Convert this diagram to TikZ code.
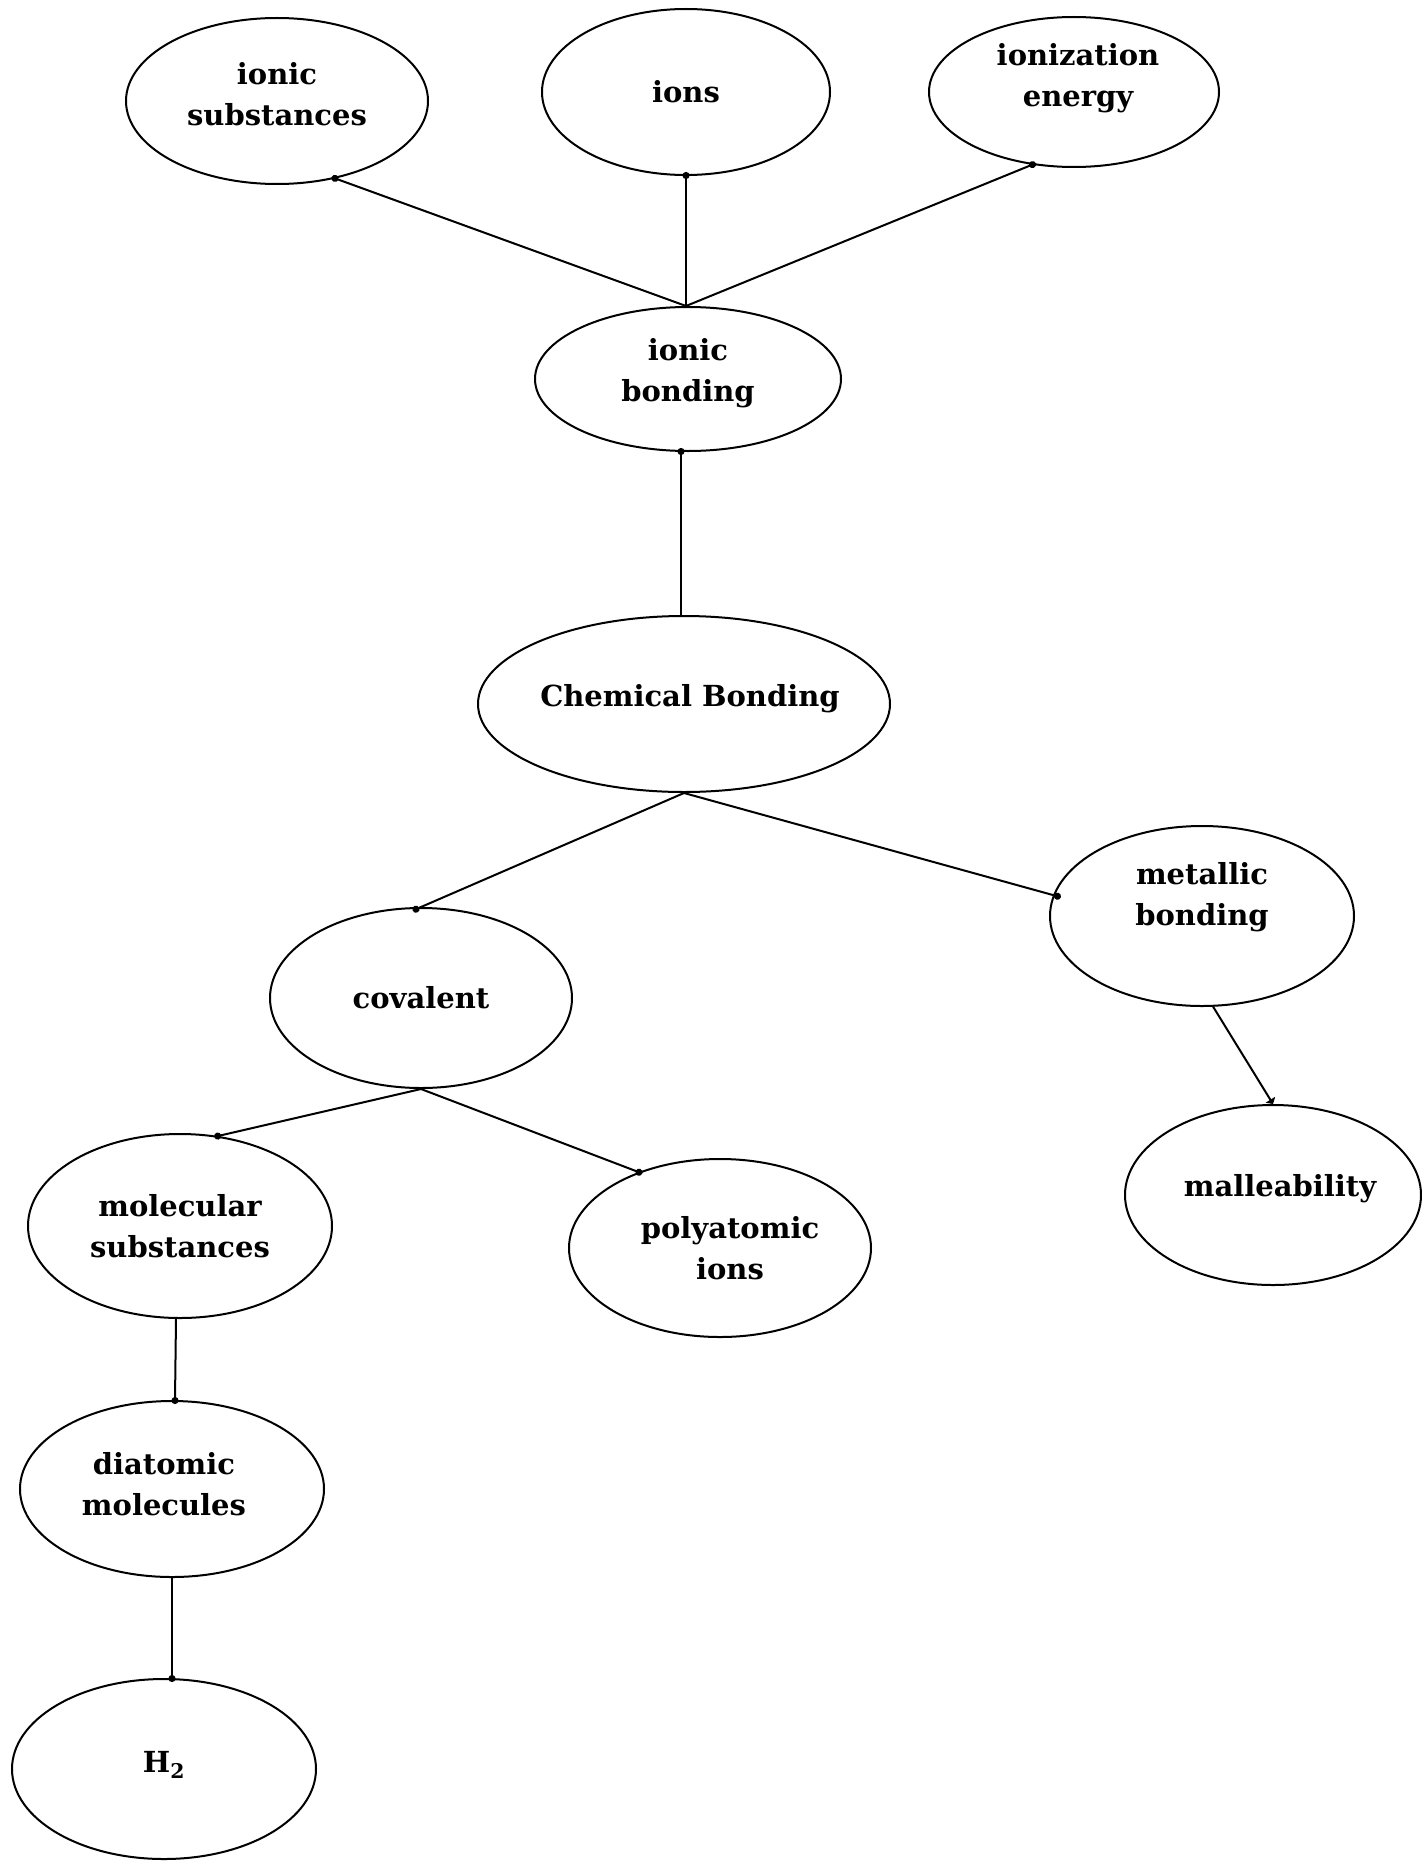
\documentclass[tikz,border=0pt]{standalone}
\usepackage{fontspec}
\setmainfont{DejaVu Serif}
\usetikzlibrary{shapes.geometric,arrows.meta,calc}
\begin{document}
\begin{tikzpicture}[x=1pt,y=-1pt,
  bub/.style={draw, ellipse, line width=2pt, inner sep=0pt},
  lbl/.style={font=\fontsize{29}{41}\selectfont\bfseries, align=center, inner sep=0pt},
  link/.style={line width=2pt, -{Circle[length=7pt]}, shorten >=-4pt},
  flat/.style={line width=2pt, -{Triangle[length=5pt,width=11pt]}}
]
\useasboundingbox (0,0) rectangle (1421,1865);
\node[bub, minimum width=302pt, minimum height=166pt, label={[lbl,yshift=7pt]center:ionic\\substances}] (isub) at (277,101) {};
\node[bub, minimum width=288pt, minimum height=166pt, label={[lbl]center:ions}] (ions) at (686,92) {};
\node[bub, minimum width=290pt, minimum height=150pt, label={[lbl,yshift=14pt,xshift=4pt]center:ionization\\energy}] (ienergy) at (1074,92) {};
\node[bub, minimum width=306pt, minimum height=144pt, label={[lbl,yshift=6pt]center:ionic\\bonding}] (ibond) at (688,379) {};
\node[bub, minimum width=412pt, minimum height=176pt, label={[lbl,yshift=5pt,xshift=6pt]center:Chemical Bonding}] (cb) at (684,704) {};
\node[bub, minimum width=304pt, minimum height=180pt, label={[lbl,yshift=19pt]center:metallic\\bonding}] (metal) at (1202,916) {};
\node[bub, minimum width=302pt, minimum height=180pt, label={[lbl]center:covalent}] (cov) at (421,998) {};
\node[bub, minimum width=296pt, minimum height=180pt, label={[lbl,yshift=6pt,xshift=7pt]center:malleability}] (mall) at (1273,1195) {};
\node[bub, minimum width=304pt, minimum height=184pt, label={[lbl]center:molecular\\substances}] (molsub) at (180,1226) {};
\node[bub, minimum width=302pt, minimum height=178pt, label={[lbl,xshift=10pt]center:polyatomic\\ions}] (poly) at (720,1248) {};
\node[bub, minimum width=304pt, minimum height=176pt, label={[lbl,yshift=5pt,xshift=-8pt]center:diatomic\\molecules}] (diat) at (172,1489) {};
\node[bub, minimum width=304pt, minimum height=180pt, label={[lbl,yshift=4pt]center:H\textsubscript{2}}] (h2) at (164,1769) {};

\draw[link] ([xshift=-2pt]ibond.north) -- (isub.-53);
\draw[link] ([xshift=-2pt]ibond.north) -- (ions.south);
\draw[link] ([xshift=-2pt]ibond.north) -- (ienergy.-120);
\draw[link] ([xshift=-3pt]cb.north) -- ([xshift=-3pt]cb.north |- ibond.south);
\draw[link, shorten >=-9pt] (cb.south) -- (cov.north);
\draw[link, shorten >=-8pt] (cb.south) -- (metal.172);
\draw[flat] (metal.-83) -- (mall.north);
\draw[link] (cov.south) -- (molsub.67);
\draw[link] (cov.south) -- (poly.137);
\draw[link] ([xshift=-4pt]molsub.south) -- ([xshift=3pt]diat.north);
\draw[link] (diat.south) -- (diat.south |- h2.north);
\end{tikzpicture}
\end{document}
